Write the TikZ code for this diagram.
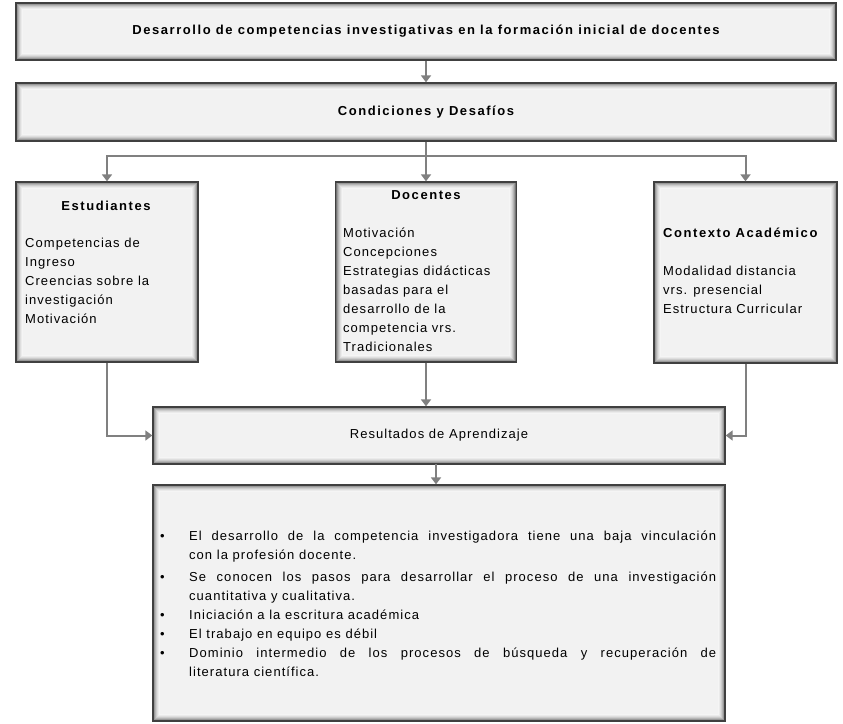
\documentclass[tikz,border=0pt]{standalone}
\usepackage{fontspec}
\setmainfont[LetterSpace=8,BoldFeatures={LetterSpace=12}]{Liberation Sans}
\usetikzlibrary{arrows.meta}
\newcommand\bodyfont{\fontsize{13bp}{19bp}\selectfont}
\newcommand\bitem[1]{\noindent\hangindent=29bp\hangafter=1\makebox[29bp][l]{\textbullet}#1\par}
\begin{document}
\begin{tikzpicture}[x=1bp,y=-1bp,
  box/.style={draw=black!75, line width=1.3bp, fill=black!5, inner sep=0pt, font=\bodyfont,
    path picture={\foreach \i/\c in {1/55,2/40,3/29,4/20,5/13,6/8,7/4}{
      \draw[black!\c, line width=1.1bp] ([xshift=\i*1bp-0.3bp, yshift=-\i*1bp+0.3bp]path picture bounding box.north west) rectangle ([xshift=-\i*1bp+0.3bp, yshift=\i*1bp-0.3bp]path picture bounding box.south east);}}},
  conn/.style={draw=black!50, line width=2bp, -{Triangle[length=7bp,width=10bp]}},
  txt/.style={inner sep=0pt, font=\bodyfont, align=left},
  ttl/.style={inner sep=0pt, font=\bodyfont\bfseries}
]
\useasboundingbox (0,0) rectangle (843,724);
% boxes
\node[box, minimum width=820bp, minimum height=57bp, font=\bodyfont\bfseries] (t1) at (426,31.5) {Desarrollo de competencias investigativas en la formación inicial de docentes};
\node[box, minimum width=820bp, minimum height=58bp, font=\bodyfont\bfseries] (t2) at (426,112) {Condiciones y Desafíos};
\node[box, minimum width=182bp, minimum height=180bp] (est) at (107,272) {};
\node[box, minimum width=181bp, minimum height=180bp] (doc) at (426,272) {};
\node[box, minimum width=183bp, minimum height=181bp] (ctx) at (745.5,272.5) {};
\node[box, minimum width=572bp, minimum height=57bp] (res) at (439,435.5) {Resultados de Aprendizaje};
\node[box, minimum width=572bp, minimum height=236bp] (bot) at (439,603) {};
% texts
\node[ttl] (estT) at (106,206) {Estudiantes};
\node[txt, anchor=north west] (estB) at (25,234.2) {\strut Competencias de\\Ingreso\\Creencias sobre la\\investigación\\Motivación};
\node[ttl] (docT) at (426,195) {Docentes};
\node[txt, anchor=north west] (docB) at (343,224.2) {\strut Motivación\\Concepciones\\Estrategias didácticas\\basadas para el\\desarrollo de la\\competencia vrs.\\Tradicionales};
\node[ttl, anchor=west] (ctxT) at (663,233) {Contexto Académico};
\node[txt, anchor=north west] (ctxB) at (663,262.2) {\strut Modalidad distancia\\vrs. presencial\\Estructura Curricular};
\node[inner sep=0pt, font=\bodyfont, text width=556bp, align=justify, anchor=north west] (list) at (160,527.2) {%
\bitem{\strut El desarrollo de la competencia investigadora tiene una baja vinculación\linebreak con la profesión docente.}\vspace{3bp}
\bitem{Se conocen los pasos para desarrollar el proceso de una investigación\linebreak cuantitativa y cualitativa.}
\bitem{Iniciación a la escritura académica}
\bitem{El trabajo en equipo es débil}
\bitem{Dominio intermedio de los procesos de búsqueda y recuperación de\linebreak literatura científica.}};
% connectors
\coordinate (split) at (426,156);
\coordinate (resout) at (436,464);
\draw[conn] (t1) -- (t2);
\draw[draw=black!50, line width=2bp] (t2.south) -- (split);
\draw[conn] (split) -| (est.north);
\draw[conn] (split) -- (doc.north);
\draw[conn] (split) -| (ctx.north);
\draw[conn] (est.south) |- (res.west);
\draw[conn] (doc.south) -- (doc.south |- res.north);
\draw[conn] (ctx.south) |- (res.east);
\draw[conn] (resout) -- (resout |- bot.north);
\end{tikzpicture}
\end{document}
